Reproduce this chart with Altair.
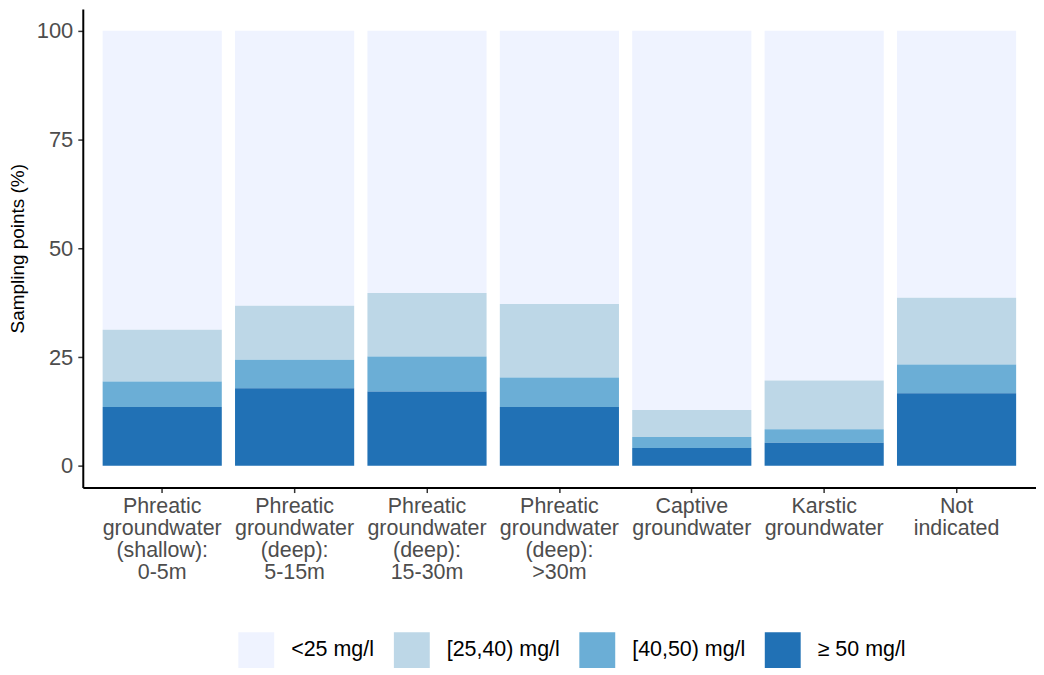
import altair as alt
import pandas as pd

categories = [
    "Phreatic|groundwater|(shallow):|0-5m",
    "Phreatic|groundwater|(deep):|5-15m",
    "Phreatic|groundwater|(deep):|15-30m",
    "Phreatic|groundwater|(deep):|>30m",
    "Captive|groundwater",
    "Karstic|groundwater",
    "Not|indicated",
]
classes = ["<25 mg/l", "[25,40) mg/l", "[40,50) mg/l", "≥ 50 mg/l"]
colors = ["#EFF3FF", "#BDD7E7", "#6BAED6", "#2171B5"]

ge50 = [13.5, 17.8, 17.1, 13.5, 4.1, 5.3, 16.7]
c40_50 = [5.9, 6.6, 8.0, 6.8, 2.5, 3.1, 6.6]
c25_40 = [11.9, 12.4, 14.6, 16.9, 6.2, 11.2, 15.3]
lt25 = [68.7, 63.2, 60.3, 62.8, 87.2, 80.4, 61.4]

series = {"<25 mg/l": lt25, "[25,40) mg/l": c25_40, "[40,50) mg/l": c40_50, "≥ 50 mg/l": ge50}
stack_rank = {"≥ 50 mg/l": 0, "[40,50) mg/l": 1, "[25,40) mg/l": 2, "<25 mg/l": 3}

rows = []
for cls, vals in series.items():
    for cat, v in zip(categories, vals):
        rows.append({"category": cat, "cls": cls, "value": v, "rank": stack_rank[cls]})
df = pd.DataFrame(rows)

FONT = "Liberation Sans"

chart = (
    alt.Chart(df)
    .mark_bar(strokeWidth=0)
    .encode(
        x=alt.X(
            "category:N",
            sort=categories,
            title=None,
            scale=alt.Scale(paddingInner=0.1, paddingOuter=0.15),
            axis=alt.Axis(
                labelExpr="split(datum.label, '|')",
                labelAngle=0,
                labelFontSize=21.5,
                labelLineHeight=22,
                labelColor="#4D4D4D",
                labelFont=FONT,
                labelPadding=3,
                labelBaseline="top",
                tickSize=5,
                tickWidth=1.5,
                tickColor="#333333",
                domainColor="black",
                domainWidth=2,
                grid=False,
            ),
        ),
        y=alt.Y(
            "value:Q",
            stack="zero",
            title="Sampling points (%)",
            scale=alt.Scale(domain=[-5, 105], nice=False, zero=False),
            axis=alt.Axis(
                values=[0, 25, 50, 75, 100],
                labelFontSize=22,
                labelColor="#4D4D4D",
                labelFont=FONT,
                labelPadding=5,
                tickSize=5,
                tickWidth=1.5,
                tickColor="#333333",
                domainColor="black",
                domainWidth=2,
                grid=False,
                titleFont=FONT,
                titleFontSize=19,
                titleFontWeight="normal",
                titleColor="black",
                titlePadding=9,
            ),
        ),
        color=alt.Color(
            "cls:N",
            scale=alt.Scale(domain=classes, range=colors),
            legend=alt.Legend(
                title=None,
                orient="none",
                direction="horizontal",
                legendX=156,
                legendY=625,
                symbolType="square",
                symbolSize=1296,
                symbolStrokeWidth=0,
                symbolOpacity=1,
                labelFontSize=21.5,
                labelFont=FONT,
                labelColor="black",
                labelOffset=17,
                columnPadding=19,
                padding=0,
            ),
        ),
        order=alt.Order("rank:Q"),
    )
    .properties(
        width=956,
        height=480,
        padding={"left": 0, "top": 0, "right": 0, "bottom": 0},
    )
    .configure_view(stroke=None)
)

chart.save("out.html", embed_options={"renderer": "svg", "actions": False})
